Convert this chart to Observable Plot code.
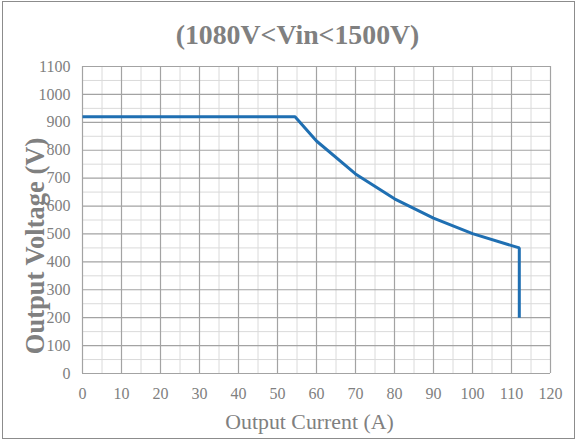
<!DOCTYPE html>
<html>
<head>
<meta charset="utf-8">
<script src="https://cdn.jsdelivr.net/npm/d3@7"></script>
<script src="https://cdn.jsdelivr.net/npm/@observablehq/plot@0.6"></script>
<style>
  body { margin: 0; background: #fff; }
  #wrap { position: relative; width: 577px; height: 442px; overflow: hidden; }
  #border { position: absolute; left: 2px; top: 1px; width: 571px; height: 436px; border: 1.5px solid #8c8c8c; pointer-events: none; }
</style>
</head>
<body>
<div id="wrap"><div id="border"></div></div>
<script>
const currentA = [0, 54.5, 60, 70, 80, 90, 100, 112, 112];
const voltageV = [920, 920, 833, 715, 626, 557, 501, 450, 200];
const xTicks = [0, 10, 20, 30, 40, 50, 60, 70, 80, 90, 100, 110, 120];
const xMinor = [5, 15, 25, 35, 45, 55, 65, 75, 85, 95, 105, 115];
const yTicks = [0, 100, 200, 300, 400, 500, 600, 700, 800, 900, 1000, 1100];
const yMinor = [50, 150, 250, 350, 450, 550, 650, 750, 850, 950, 1050];
const titleText = "(1080V<Vin<1500V)";
const xLabel = "Output Current (A)";
const yLabel = "Output Voltage (V)";

const data = currentA.map((c, i) => ({current: c, voltage: voltageV[i]}));
const gray = "#808080";
const fmt = d => String(d);

const chart = Plot.plot({
  width: 577,
  height: 442,
  marginTop: 66,
  marginBottom: 69,
  marginLeft: 82,
  marginRight: 27,
  style: {fontFamily: "'Liberation Serif', 'Times New Roman', serif", fontSize: "16px", color: gray, background: "transparent"},
  x: {domain: [0, 120], ticks: xTicks, tickSize: 0, tickPadding: 14, label: null},
  y: {domain: [0, 1100], ticks: yTicks, tickSize: 0, tickPadding: 12, label: null},
  marks: [
    Plot.ruleX(xMinor, {stroke: "#dadada", strokeWidth: 1}),
    Plot.ruleY(yMinor, {stroke: "#dadada", strokeWidth: 1}),
    Plot.ruleX(xTicks, {stroke: "#a3a3a3", strokeWidth: 1.2}),
    Plot.ruleY(yTicks, {stroke: "#a3a3a3", strokeWidth: 1.2}),
    Plot.line(data, {x: "current", y: "voltage", stroke: "#1f6fb2", strokeWidth: 3, strokeLinejoin: "miter", strokeLinecap: "butt"}),
    Plot.axisX({ticks: xTicks, tickFormat: fmt, tickSize: 0, tickPadding: 14, fill: gray, fontSize: 16, label: null}),
    Plot.axisY({ticks: yTicks, tickFormat: fmt, tickSize: 0, tickPadding: 12, fill: gray, fontSize: 16, label: null}),
    Plot.text([titleText], {frameAnchor: "top", textAnchor: "middle", dx: -19, dy: -31, fontSize: 27.8, fontWeight: "bold", fill: gray, lineAnchor: "middle"}),
    Plot.text([xLabel], {frameAnchor: "bottom", textAnchor: "middle", dx: -7, dy: 49, fontSize: 21.8, fill: gray, lineAnchor: "middle"}),
    Plot.text([yLabel], {frameAnchor: "left", textAnchor: "middle", dx: -47, dy: 26, rotate: -90, fontSize: 26.5, fontWeight: "bold", fill: gray, lineAnchor: "middle"})
  ]
});
document.getElementById("wrap").prepend(chart);
</script>
</body>
</html>
